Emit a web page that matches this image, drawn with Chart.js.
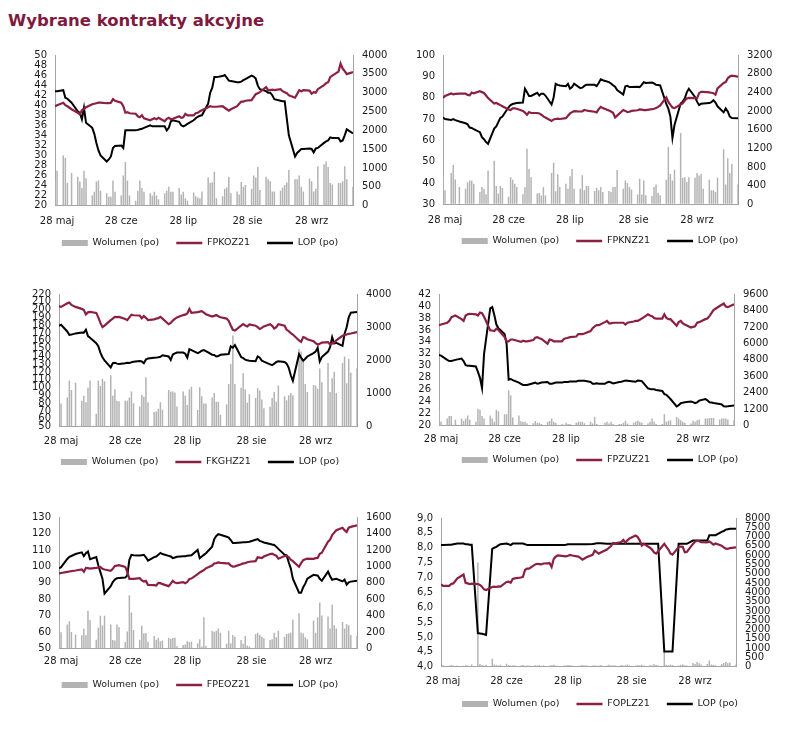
<!DOCTYPE html>
<html><head><meta charset="utf-8">
<script src="https://cdn.jsdelivr.net/npm/chart.js@4.4.1/dist/chart.umd.min.js"></script>
<style>
html,body{margin:0;padding:0;background:#fff}
body{width:800px;height:730px;position:relative;overflow:hidden;font-family:"DejaVu Sans",Verdana,sans-serif}
#title{position:absolute;left:8px;top:11px;line-height:20px;font-weight:bold;font-size:16.5px;color:#7f1a3f;white-space:nowrap}
</style></head><body>
<div id="title">Wybrane kontrakty akcyjne</div>
<script>
// ---------- categories (trading days) ----------
const FIRST_DAY = '2021-05-27', LAST_DAY = '2021-10-18';
const HOLIDAYS = ['2021-06-03'];
const TICK_DATES = ['2021-05-28','2021-06-28','2021-07-28','2021-08-28','2021-09-28'];
const TICK_LABELS = ['28 maj','28 cze','28 lip','28 sie','28 wrz'];
const LEGEND_VOL = 'Wolumen (po)', LEGEND_LOP = 'LOP (po)';

// ---------- series (trading day by trading day) ----------
const fpkoz21 = [39.8,40.0,40.5,40.0,39.8,39.2,38.5,38.2,39.0,39.3,
39.6,40.2,40.3,40.4,40.5,40.5,40.4,40.4,40.5,41.2,
40.9,40.5,39.8,38.5,38.6,38.4,38.3,37.8,37.6,38.0,
37.4,37.0,37.2,37.4,37.2,37.5,36.8,37.3,37.5,37.2,
37.3,37.8,37.5,37.6,38.3,38.0,38.0,38.4,38.5,38.8,
39.0,39.6,39.8,39.7,39.7,39.7,39.8,39.5,39.2,38.9,
39.2,39.8,40.3,40.7,40.7,40.9,41.0,41.6,42.2,42.4,
42.6,43.6,43.0,43.0,43.1,43.0,43.2,42.8,42.6,42.4,
42.0,41.5,42.2,43.0,42.8,43.0,42.9,42.3,42.6,42.5,
43.2,44.0,44.4,44.6,45.6,45.9,46.7,48.3,47.3,46.8,
46.2,46.6];
const lop1 = [3040,3040,3067,2867,2840,2733,2507,2467,2293,2600,
2200,2067,1907,1667,1467,1333,1173,1227,1307,1533,
1587,1600,1533,2000,2000,2000,2000,2013,2027,2040,
2067,2133,2107,2107,2107,2107,2107,2000,2067,2240,
2267,2227,2133,2107,2133,2173,2267,2320,2360,2387,
2400,2707,3000,3133,3413,3413,3440,3467,3400,3320,
3307,3280,3280,3293,3333,3360,3453,3427,3373,3187,
3093,3040,3000,3000,2933,2827,2787,2773,2773,2320,
1867,1307,1400,1453,1507,1507,1520,1507,1413,1520,
1533,1667,1707,1733,1813,1800,1800,1707,1733,1867,
2027,1920];
const vol1 = [700,930,1330,1270,600,870,770,640,470,930,
730,270,370,640,670,400,330,240,240,670,
370,270,800,1160,670,270,130,400,670,470,
370,330,270,370,270,170,330,400,500,370,
370,470,300,370,200,130,350,250,220,200,
380,750,600,620,900,200,250,450,480,770,
330,380,300,630,500,550,450,800,750,1030,
420,770,700,650,380,380,400,480,550,620,
950,700,700,800,500,380,720,650,380,450,
1050,1100,1170,1030,600,560,600,600,650,1050,
700,500];

const fpknz21 = [79.9,80.8,82.0,81.6,81.8,81.9,81.9,81.3,81.1,82.4,
82.0,83.0,82.6,82.2,81.0,79.8,77.2,77.5,77.0,76.5,
76.0,74.5,74.2,75.0,75.0,74.8,73.8,73.0,72.0,73.2,
72.8,72.8,72.6,72.0,71.2,70.7,69.1,69.8,70.0,70.2,
70.0,70.4,71.5,72.6,73.2,73.7,73.5,73.6,74.2,74.0,
73.8,73.4,73.1,74.6,75.7,75.1,74.0,73.5,72.9,70.7,
71.6,74.2,73.8,73.2,73.4,73.8,74.1,74.5,74.4,74.2,
74.2,74.6,74.8,75.1,75.7,76.4,80.1,78.0,76.6,75.4,
75.1,76.8,77.3,78.6,79.6,79.9,79.8,79.7,82.1,82.7,
82.7,82.5,82.3,82.1,81.4,84.3,86.9,87.3,89.1,89.9,
90.3,89.9];
const lop2 = [1860,1828,1805,1824,1805,1774,1737,1714,1646,1636,
1609,1545,1440,1394,1335,1298,1623,1668,1760,1851,
1883,2080,2126,2149,2162,2171,2180,2478,2400,2322,
2322,2391,2331,2372,2372,2331,2139,2286,2583,2560,
2546,2532,2583,2478,2514,2583,2491,2500,2537,2560,
2560,2561,2533,2600,2680,2660,2620,2590,2550,2520,
2450,2351,2530,2540,2512,2515,2520,2510,2560,2617,
2600,2610,2590,2561,2555,2547,2150,2050,1880,1424,
1700,2161,2200,2266,2400,2477,2300,2200,2126,2155,
2161,2170,2190,2231,2180,2100,1971,2056,1990,1880,
1850,1845];
const vol2 = [603,300,672,841,530,370,334,475,512,512,
439,265,370,334,215,722,933,393,229,393,
347,160,581,526,439,370,215,365,1193,754,
581,229,240,190,370,190,672,891,279,643,
370,439,334,603,754,334,334,620,300,393,
393,287,357,300,370,266,287,266,370,370,
736,335,511,455,370,315,210,547,210,511,
195,180,370,427,245,195,525,1227,652,511,
743,1529,567,581,476,581,567,673,617,652,
335,525,300,300,266,567,1178,427,989,673,
862,427];

const fkghz21 = [204.2,203.5,208.0,209.0,206.0,203.5,201.0,199.5,194.0,196.5,
197.0,195.8,190.0,183.0,177.5,179.5,186.5,188.5,190.8,190.5,
190.6,188.0,186.5,190.0,193.5,192.8,192.5,189.0,191.7,189.5,
186.7,187.5,188.5,189.0,190.8,188.5,181.3,183.0,186.0,188.0,
190.0,193.0,193.5,195.0,200.8,196.0,196.8,197.5,198.0,196.2,
194.1,191.0,192.0,193.1,191.5,190.2,188.5,185.6,179.6,174.1,
173.2,179.6,181.4,179.6,178.5,180.9,179.4,177.5,175.2,176.6,
178.5,181.4,179.2,175.8,177.5,181.4,179.4,174.1,172.4,169.8,
168.1,160.5,158.6,164.8,163.9,161.9,159.5,157.1,155.3,156.2,
157.8,158.4,155.3,156.7,157.9,160.5,166.4,167.3,168.1,169.0,
169.4,171.1];
const lop3 = [3040,3071,2871,2765,2776,2812,2842,2835,2922,2729,
2682,2518,2424,2235,2094,2000,1784,1918,1929,1901,
1892,1913,1929,1918,1941,1960,1981,1965,1913,2024,
2059,2078,2082,2094,2108,2153,2118,2010,2176,2212,
2235,2235,2200,2078,2334,2306,2215,2250,2290,2312,
2280,2170,2160,2117,2130,2166,2185,2190,2420,2380,
2459,2100,2068,2020,2000,1990,1975,2117,2080,1990,
1960,1880,1854,1900,1951,1970,1951,1900,1776,1550,
1385,2185,2080,1990,2050,2117,2220,2263,2380,1970,
2100,2263,2400,2702,2507,2530,2439,2800,3000,3300,
3434,3454];
const vol3 = [1245,700,882,1393,1108,1325,784,931,737,1176,
1393,392,1393,1226,1442,1373,1549,931,1127,784,
765,784,784,882,1059,706,608,961,902,1490,
737,441,461,539,737,510,1108,1059,1059,1029,
608,1059,931,657,1118,1206,507,1190,917,702,
702,878,1015,751,751,361,673,1288,1893,2751,
1288,1171,1610,1122,722,976,868,1161,1093,820,
556,605,868,1044,751,1239,917,800,946,1015,
946,2341,2263,1970,1288,1044,1259,1239,1141,1756,
1337,1922,1044,1463,1659,1015,1922,2117,1307,2049,
1629,1756];

const fpzuz21 = [36.8,36.9,37.2,37.5,38.1,38.4,37.8,37.5,38.4,38.6,
38.7,38.6,38.4,38.9,38.8,38.2,35.9,35.9,35.8,36.2,
36.0,34.8,34.1,34.1,34.4,34.4,34.1,34.0,34.2,34.1,
34.1,34.3,34.7,34.8,34.6,34.5,33.7,34.4,34.3,34.1,
34.1,34.1,34.5,34.6,34.7,34.8,34.9,35.3,35.3,35.3,
35.4,35.8,36.3,36.6,36.8,36.8,37.3,37.5,37.1,37.1,
37.2,37.2,37.2,37.2,36.9,37.2,37.4,37.5,37.5,37.7,
37.9,38.6,38.4,38.3,38.0,37.9,37.9,38.6,38.0,37.8,
37.8,36.7,37.3,37.5,37.1,36.9,36.4,36.5,36.6,37.2,
37.3,37.8,37.9,38.3,38.8,39.3,40.0,40.2,40.4,39.9,
39.8,40.3];
const lop4 = [5150,5106,4800,4713,4713,4800,4888,4713,4408,4364,
4364,4320,3928,3491,2749,5237,8553,8641,8073,7375,
7113,6677,5979,3360,3404,3317,3142,3055,2968,2968,
2968,3098,3142,3055,3098,3142,3186,3055,3055,3098,
3142,3142,3186,3186,3186,3229,3229,3273,3273,3273,
3273,3186,3055,3055,3098,3055,3059,3150,3201,3150,
3082,3178,3200,3250,3296,3280,3220,3201,3296,3280,
3250,2727,2680,2656,2650,2609,2537,2300,2253,2100,
1945,1400,1500,1637,1680,1708,1755,1720,1637,1700,
1826,1945,1850,1708,1690,1650,1590,1550,1420,1400,
1410,1471];
const vol4 = [1157,300,524,698,698,436,524,349,524,742,
436,279,1222,1157,698,524,742,524,279,1157,
1047,829,829,2575,2226,589,742,327,279,279,
175,175,349,218,218,131,279,349,524,279,
218,131,65,218,131,131,218,279,279,279,
175,286,167,641,120,60,215,286,167,286,
120,120,120,215,357,167,215,286,357,286,
215,167,286,523,286,120,120,831,286,357,
404,641,523,404,286,215,167,357,286,404,
452,523,523,570,570,570,452,523,523,523,
452,400];

const fpeoz21 = [95.7,96.0,96.7,96.9,97.1,97.5,98.2,96.7,99.1,98.9,
98.7,99.1,99.3,99.7,98.5,98.1,97.3,98.5,100.3,100.5,
100.7,99.7,96.7,92.4,92.5,92.4,92.8,91.5,90.8,91.2,
88.8,88.6,88.4,90.0,89.8,89.2,88.0,89.5,91.2,90.2,
89.8,90.4,89.8,90.5,92.4,92.6,95.3,96.3,97.0,97.8,
98.8,100.5,101.8,102.0,102.4,102.1,101.8,101.8,100.5,99.8,
100.0,101.3,101.8,102.0,102.5,102.8,103.2,105.5,105.3,105.1,
106.0,107.5,107.7,107.0,106.5,104.7,106.3,106.3,105.7,104.0,
103.2,99.8,102.0,103.8,104.3,104.7,104.6,105.0,105.1,107.7,
108.3,115.0,116.2,119.0,120.5,122.0,123.5,122.0,120.9,123.5,
124.0,124.9];
const lop5 = [974,990,1090,1116,1126,1150,1170,1124,1160,1180,
1086,1112,1014,930,850,670,760,810,840,856,
860,864,890,1080,1140,1136,1132,1136,1140,1110,
1070,1112,1120,1140,1164,1150,1128,1120,1100,1108,
1116,1124,1124,1128,1132,1136,1200,1100,1120,1140,
1160,1240,1331,1370,1391,1385,1360,1351,1320,1284,
1284,1290,1292,1292,1295,1300,1323,1331,1310,1300,
1290,1272,1265,1260,1240,1213,1142,1134,1050,976,
850,680,680,747,790,850,897,893,889,850,
826,936,880,838,845,850,818,838,778,806,
815,826];
const vol5 = [348,200,294,332,202,174,162,242,162,460,
348,110,254,400,282,400,294,105,100,294,
261,80,210,650,440,226,110,280,188,192,
84,155,110,133,90,100,133,120,130,133,
30,45,50,90,80,84,67,115,28,383,
36,218,206,218,245,194,59,218,67,166,
146,107,59,154,36,28,178,194,166,146,
127,107,115,194,138,218,146,178,186,194,
352,431,194,186,138,115,344,194,383,561,
403,391,245,533,285,245,324,245,296,285,
166,154];

const foplz21 = [6.77,6.72,6.72,6.78,6.80,6.97,7.10,6.82,6.80,6.78,
6.79,6.78,6.75,6.69,6.60,6.58,6.68,6.69,6.68,6.70,
6.69,6.85,6.86,6.82,6.95,6.97,7.00,7.02,7.25,7.30,
7.30,7.44,7.46,7.45,7.44,7.47,7.48,7.35,7.62,7.70,
7.74,7.72,7.71,7.73,7.76,7.74,7.70,7.66,7.60,7.64,
7.68,7.76,7.90,7.85,7.80,7.84,7.94,8.00,8.06,8.16,
8.15,8.19,8.26,8.17,8.25,8.31,8.41,8.36,8.25,8.07,
8.13,8.00,7.94,7.84,7.80,7.88,8.13,8.03,7.94,7.81,
7.77,8.02,8.04,8.03,7.85,7.86,8.13,8.20,8.24,8.22,
8.19,8.18,8.21,8.16,8.10,8.14,8.07,8.01,7.97,7.96,
7.99,8.01];
const lop6 = [6544,6544,6560,6560,6592,6624,6624,6592,6592,6560,
6560,1808,1792,1776,1744,1712,6336,6400,6448,6528,
6592,6624,6592,6544,6624,6624,6624,6624,6592,6544,
6544,6544,6544,6544,6544,6544,6544,6544,6544,6544,
6544,6544,6560,6592,6592,6592,6592,6592,6592,6592,
6592,6600,6620,6640,6643,6640,6620,6609,6609,6609,
6609,6609,6609,6609,6609,6609,6609,6609,6609,6609,
6609,6609,6609,6609,6609,6609,818,818,818,818,
818,6609,6609,6609,6609,6609,6783,6783,6783,6783,
6783,6783,7078,7078,7078,7078,7252,7300,7374,7400,
7426,7420];
const vol6 = [60,80,50,90,60,70,50,80,60,40,
120,5600,150,90,60,100,430,120,80,60,
100,160,90,70,60,80,60,90,50,70,
60,80,60,90,50,70,60,80,100,60,
50,70,60,90,80,60,50,70,90,60,
80,60,80,50,70,90,60,100,70,80,
60,90,60,80,120,70,60,90,70,100,
60,80,60,150,90,70,800,100,80,120,
90,70,100,120,80,60,200,150,250,180,
120,150,350,120,100,80,150,200,250,180,
220,120];

// ---------- build x positions (calendar days from 28 May) ----------
const DAY = 864e5;
const utc = s => { const [y,m,d] = s.split('-').map(Number); return Date.UTC(y, m-1, d); };
const ORIGIN = utc('2021-05-28');
const X = [];
for (let t = utc(FIRST_DAY); t <= utc(LAST_DAY); t += DAY) {
  const dt = new Date(t), wd = dt.getUTCDay(), iso = dt.toISOString().slice(0,10);
  if (wd === 0 || wd === 6 || HOLIDAYS.includes(iso)) continue;
  X.push(Math.round((t - ORIGIN) / DAY));
}
const TICK_X = TICK_DATES.map(s => Math.round((utc(s) - ORIGIN) / DAY));
const TICK_MAP = {}; TICK_X.forEach((v,i) => TICK_MAP[v] = TICK_LABELS[i]);
const X_MIN = Math.round((utc(FIRST_DAY) - ORIGIN) / DAY), X_MAX = Math.round((utc(LAST_DAY) - ORIGIN) / DAY);

// ---------- styles ----------
const FONT = '"DejaVu Sans", Verdana, sans-serif';
const MAROON = '#8c1f45', BLACK = '#000000', GREY = '#b3b3b3', AXIS = '#a3a3a3', TXT = '#1a1a1a';
Chart.defaults.font.family = FONT;

const fmtInt = v => String(Math.round(v));
const fmtComma = v => v.toFixed(1).replace('.', ',');

const PANELS = [
  {L:0,   plotL:55,  plotR:353, plotT:52.3,  plotB:205.7, labC:221.7, legC:243, name:'FPKOZ21', price:fpkoz21, lop:lop1, vol:vol1,
   left:{min:20,max:50,step:2,fmt:fmtInt}, right:{min:0,max:4000,step:500}},
  {L:400, plotL:443, plotR:738, plotT:52.3,  plotB:204.3, labC:220,   legC:241, name:'FPKNZ21', price:fpknz21, lop:lop2, vol:vol2,
   left:{min:30,max:100,step:10,fmt:fmtInt}, right:{min:0,max:3200,step:400}},
  {L:0,   plotL:59,  plotR:357, plotT:290.7, plotB:426.7, labC:441.7, legC:462, name:'FKGHZ21', price:fkghz21, lop:lop3, vol:vol3,
   left:{min:50,max:220,step:10,fmt:fmtInt}, right:{min:0,max:4000,step:1000}},
  {L:400, plotL:439, plotR:734, plotT:290.7, plotB:425.7, labC:439.3, legC:460, name:'FPZUZ21', price:fpzuz21, lop:lop4, vol:vol4,
   left:{min:20,max:42,step:2,fmt:fmtInt}, right:{min:0,max:9600,step:1200}},
  {L:0,   plotL:59,  plotR:357, plotT:514,   plotB:648.7, labC:661.7, legC:685, name:'FPEOZ21', price:fpeoz21, lop:lop5, vol:vol5,
   left:{min:50,max:130,step:10,fmt:fmtInt}, right:{min:0,max:1600,step:200}},
  {L:400, plotL:441, plotR:736, plotT:515,   plotB:666.7, labC:681.7, legC:704, name:'FOPLZ21', price:foplz21, lop:lop6, vol:vol6,
   left:{min:4,max:9,step:0.5,fmt:fmtComma}, right:{min:0,max:8000,step:500}}
];

const LEG_FONT = 9.5, LEG_PAD = 17;

function build(p) {
  const T = Math.round(p.plotT - 12);
  const padTop = p.plotT - T;
  const hx = p.legC - p.plotB - LEG_PAD - LEG_FONT / 2;
  const H = Math.ceil(p.plotB - T + hx + 60);
  const cv = document.createElement('canvas');
  cv.width = 400; cv.height = H;
  cv.style.cssText = `position:absolute;left:${p.L}px;top:${T}px;width:400px;height:${H}px`;
  document.body.appendChild(cv);
  const pts = arr => arr.map((v, i) => ({x: X[i], y: v}));
  const axisGrid = {display:true, drawOnChartArea:false, drawTicks:false, color:AXIS};
  const axisBorder = {display:true, color:AXIS, width:1};
  const tickFont = {family:FONT, size:10};
  const cfg = {
    type: 'line',
    data: { datasets: [
      {type:'bar', label:LEGEND_VOL, data:pts(p.vol), yAxisID:'yR', backgroundColor:GREY, borderColor:GREY,
       borderWidth:0, barPercentage:1, categoryPercentage:0.72, order:3, pointStyle:'rect'},
      {type:'line', label:p.name, data:pts(p.price), yAxisID:'yL', borderColor:MAROON, backgroundColor:MAROON,
       borderWidth:2.2, pointRadius:0, pointHoverRadius:0, pointStyle:'line', pointBorderWidth:2.5, pointBorderColor:MAROON, order:1, tension:0},
      {type:'line', label:LEGEND_LOP, data:pts(p.lop), yAxisID:'yR', borderColor:BLACK, backgroundColor:BLACK,
       borderWidth:2, pointRadius:0, pointHoverRadius:0, pointStyle:'line', pointBorderWidth:2.5, pointBorderColor:BLACK, order:2, tension:0}
    ]},
    options: {
      responsive:false, animation:false, devicePixelRatio:1, events:[],
      layout:{padding:{top:padTop, left:0, right:0, bottom:0}},
      plugins:{
        tooltip:{enabled:false},
        legend:{position:'bottom', labels:{usePointStyle:true, pointStyleWidth:26, boxHeight:6, padding:LEG_PAD,
          font:{family:FONT, size:LEG_FONT}, color:TXT, sort:(a,b) => a.datasetIndex - b.datasetIndex}}
      },
      scales:{
        x:{type:'linear', min:X_MIN, max:X_MAX, offset:false, grid:axisGrid, border:axisBorder,
           ticks:{autoSkip:false, maxRotation:0, minRotation:0, padding:p.labC - p.plotB - 6, font:tickFont, color:TXT,
                  callback: v => (TICK_MAP[v] !== undefined ? TICK_MAP[v] : '')},
           afterBuildTicks: s => { s.ticks = TICK_X.map(v => ({value:v})); },
           afterFit: s => { s.height = hx; s._computeLabelArea = () => undefined; }},
        yL:{type:'linear', position:'left', min:p.left.min, max:p.left.max, grid:axisGrid, border:axisBorder,
            ticks:{stepSize:p.left.step, autoSkip:false, padding:8, font:tickFont, color:TXT, callback:p.left.fmt},
            afterFit: s => { s.width = p.plotL - p.L; }},
        yR:{type:'linear', position:'right', min:p.right.min, max:p.right.max, grid:axisGrid, border:axisBorder,
            ticks:{stepSize:p.right.step, autoSkip:false, padding:9, font:tickFont, color:TXT, callback:fmtInt},
            afterFit: s => { s.width = p.L + 400 - p.plotR; }}
      }
    }
  };
  const ch = new Chart(cv, cfg);
  const want = p.plotB - T;
  const d = ch.chartArea.bottom - want;
  ch.options.layout.padding = {top:padTop, left:0, right:0, bottom:Math.max(0, d)};
  ch.update('none');
}
PANELS.forEach(build);
</script>
</body></html>
